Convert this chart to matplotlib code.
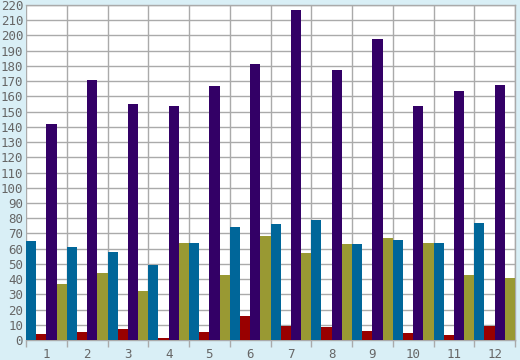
import matplotlib
matplotlib.use("Agg")
import matplotlib.pyplot as plt
import numpy as np

categories = ["1", "2", "3", "4", "5", "6", "7", "8", "9", "10", "11", "12"]
series_blue = [65, 61, 58, 49, 64, 74, 76, 79, 63, 66, 64, 77]
series_red = [4, 5, 7, 1, 5, 16, 9, 8.5, 6, 4.5, 3.5, 9]
series_purple = [142, 171, 155, 154, 167, 181, 217, 177, 198, 154, 163.5, 167.5]
series_olive = [37, 44, 32, 64, 43, 68, 57, 63, 67, 64, 43, 41]
y_ticks = list(range(0, 221, 10))

colors = ["#006699", "#990000", "#330066", "#999933"]
series = [series_blue, series_red, series_purple, series_olive]

bg = "#d9eff6"
fig = plt.figure(figsize=(5.2, 3.6), dpi=100, facecolor=bg)
ax = fig.add_axes([26/520, 20/360, 489/520, 335/360])
ax.set_facecolor("white")

n = len(categories)
x = np.arange(n)
w = 0.25
for i, (vals, c) in enumerate(zip(series, colors)):
    ax.bar(x - 0.5 + w * i, vals, width=w, align="edge", color=c, zorder=3, linewidth=0)

ax.set_xlim(-0.5, n - 0.5)
ax.set_ylim(0, 220)
ax.set_yticks(y_ticks)
ax.set_yticklabels([str(t) for t in y_ticks])

ax.set_xticks(np.arange(n + 1) - 0.5, minor=False)
ax.set_xticklabels([])
ax.set_xticks(x, minor=True)
ax.set_xticklabels(categories, minor=True)

grid_c = "#aaaaaa"
ax.grid(True, axis="both", which="major", color=grid_c, linewidth=1.0, zorder=0)
ax.tick_params(axis="x", which="major", length=5, color=grid_c, width=1, direction="out")
ax.tick_params(axis="x", which="minor", length=0, pad=6, labelsize=9, labelcolor="#666666")
ax.tick_params(axis="y", length=0, pad=2, labelsize=9, labelcolor="#666666")
for lab in ax.get_yticklabels() + ax.get_xticklabels(minor=True):
    lab.set_family("DejaVu Sans Mono")

for s in ["left", "right", "top", "bottom"]:
    ax.spines[s].set_color(grid_c)
    ax.spines[s].set_linewidth(1.0)
ax.spines["left"].set_visible(False)

fig.savefig("out.png", dpi=100, facecolor=bg)
